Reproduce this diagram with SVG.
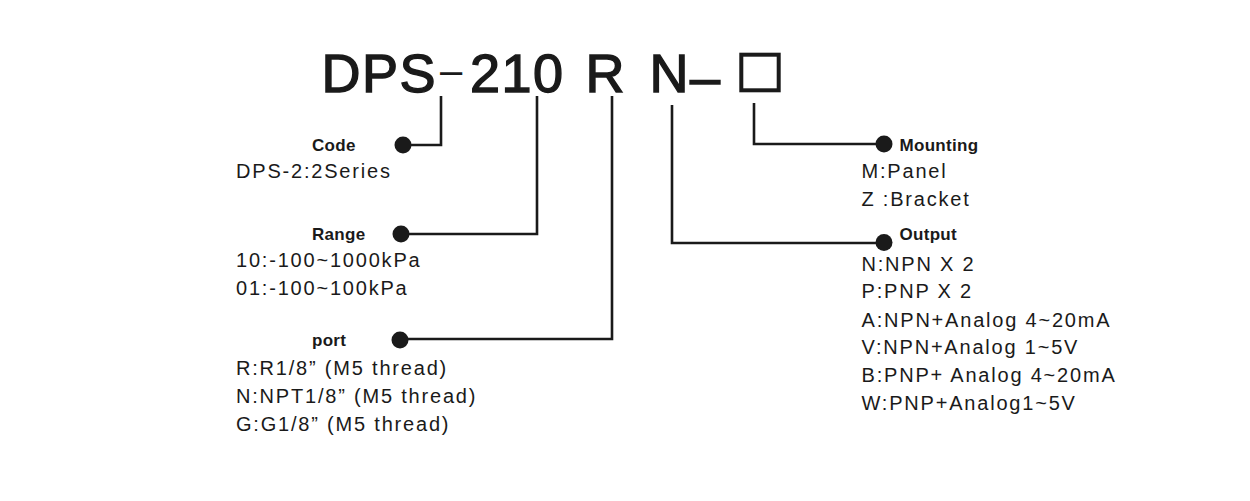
<svg xmlns="http://www.w3.org/2000/svg" width="1250" height="501" viewBox="0 0 1250 501">
<style>
.title{font-family:"Liberation Sans",Arial,sans-serif;font-size:54px;fill:#1a1a1a;stroke:#1a1a1a;stroke-width:1.4px;letter-spacing:1.5px}
.lbl{font-family:"Liberation Sans",Arial,sans-serif;font-size:17px;font-weight:bold;fill:#1a1a1a;letter-spacing:0.3px}
.opt{font-family:"Liberation Sans",Arial,sans-serif;font-size:20px;fill:#1a1a1a;letter-spacing:1.8px}
.wire{fill:none;stroke:#1a1a1a;stroke-width:2.6}
.dot{fill:#1a1a1a}
</style>
<rect width="1250" height="501" fill="#ffffff"/>
<g id="code-title">
<text class="title" x="321.5" y="91.5">DPS</text>
<text class="title" x="440" y="84" style="font-size:40px;letter-spacing:0;stroke-width:0">–</text>
<text class="title" x="470" y="91.5">210</text>
<text class="title" x="585.5" y="91.5">R</text>
<text class="title" x="649.5" y="91.5">N</text>
<text class="title" x="690" y="96" style="letter-spacing:0">–</text>
<rect x="741.3" y="54.7" width="37.4" height="35.6" fill="none" stroke="#1a1a1a" stroke-width="4"/>
</g>
<g id="connectors">
<path class="wire" d="M441,96 V145 H403"/>
<path class="wire" d="M537,96 V234 H401"/>
<path class="wire" d="M612,96 V339 H400"/>
<path class="wire" d="M754,103 V144 H884"/>
<path class="wire" d="M672,105 V243 H884"/>
<circle class="dot" cx="403" cy="145" r="8.5"/>
<circle class="dot" cx="401" cy="234" r="8.5"/>
<circle class="dot" cx="400" cy="340" r="8.5"/>
<circle class="dot" cx="884" cy="144" r="8.5"/>
<circle class="dot" cx="884" cy="242.5" r="8.5"/>
</g>
<g id="node-code">
<text class="lbl" x="312" y="151">Code</text>
<text class="opt" x="236" y="178">DPS-2:2Series</text>
</g>
<g id="node-range">
<text class="lbl" x="312" y="240">Range</text>
<text class="opt" x="236" y="267">10:-100~1000kPa</text>
<text class="opt" x="236" y="295">01:-100~100kPa</text>
</g>
<g id="node-port">
<text class="lbl" x="312" y="346">port</text>
<text class="opt" x="236" y="375">R:R1/8” (M5 thread)</text>
<text class="opt" x="236" y="403">N:NPT1/8” (M5 thread)</text>
<text class="opt" x="236" y="431">G:G1/8” (M5 thread)</text>
</g>
<g id="node-mounting">
<text class="lbl" x="899.5" y="151">Mounting</text>
<text class="opt" x="861.5" y="178">M:Panel</text>
<text class="opt" x="861.5" y="206">Z :Bracket</text>
</g>
<g id="node-output">
<text class="lbl" x="899.5" y="240">Output</text>
<text class="opt" x="861.5" y="271">N:NPN X 2</text>
<text class="opt" x="861.5" y="298">P:PNP X 2</text>
<text class="opt" x="861.5" y="327">A:NPN+Analog 4~20mA</text>
<text class="opt" x="861.5" y="354">V:NPN+Analog 1~5V</text>
<text class="opt" x="861.5" y="382">B:PNP+ Analog 4~20mA</text>
<text class="opt" x="861.5" y="410">W:PNP+Analog1~5V</text>
</g>
</svg>
